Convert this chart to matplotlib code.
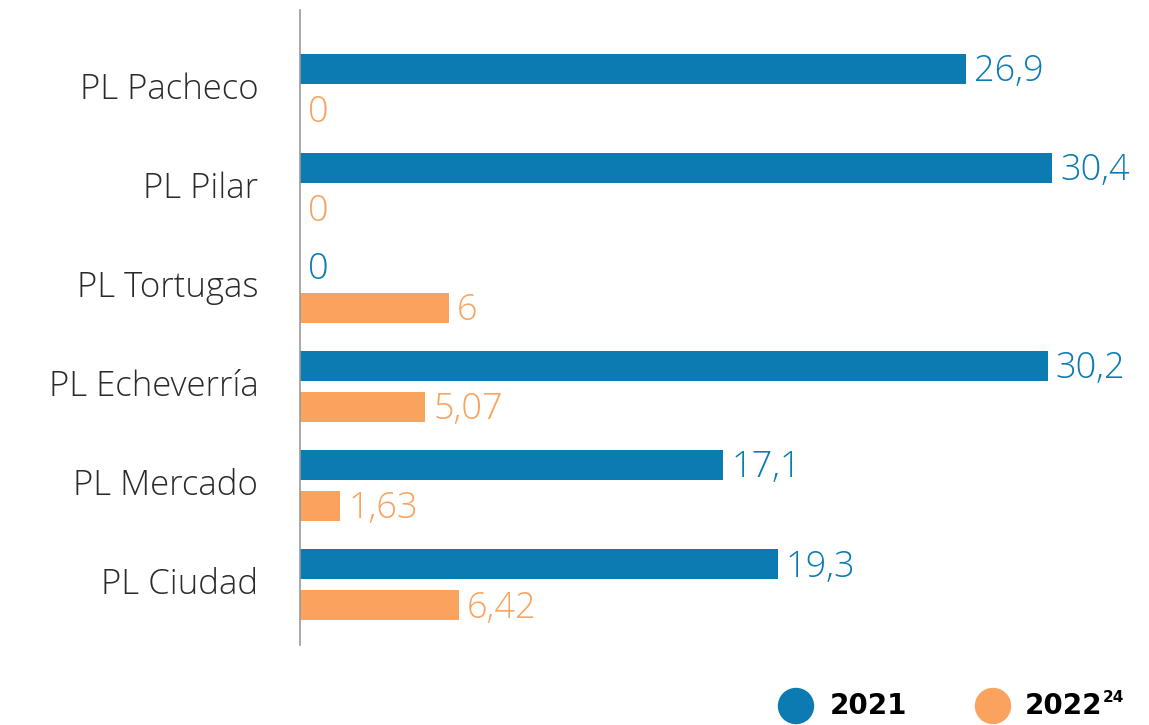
import matplotlib
matplotlib.use("Agg")
import matplotlib.pyplot as plt
from matplotlib.patches import Circle
import numpy as np

# ---------------------------------------------------------------------------
# Data
# ---------------------------------------------------------------------------

CATEGORIES = ["PL Pacheco", "PL Pilar", "PL Tortugas", "PL Echeverría",
              "PL Mercado", "PL Ciudad"]
VALUES_2021 = [26.9, 30.4, 0, 30.2, 17.1, 19.3]
VALUES_2022 = [0, 0, 6, 5.07, 1.63, 6.42]
LABELS_2021 = ["26,9", "30,4", "0", "30,2", "17,1", "19,3"]
LABELS_2022 = ["0", "0", "6", "5,07", "1,63", "6,42"]

BLUE   = "#0b7bb2"
ORANGE = "#f9a35e"
FONT   = "Open Sans"

# ---------------------------------------------------------------------------
# Plot
# ---------------------------------------------------------------------------

W, H = 1149, 725
fig = plt.figure(figsize=(W / 100, H / 100), dpi=100)
ax = fig.add_axes([300 / W, 1 - 645 / H, 1 - 300 / W, (645 - 10) / H])

y = np.arange(len(CATEGORIES))
off = 0.207
bh = 0.303

ax.barh(y - off, VALUES_2021, height=bh, color=BLUE)
ax.barh(y + off, VALUES_2022, height=bh, color=ORANGE)

for yi, v, lab in zip(y, VALUES_2021, LABELS_2021):
    ax.text(v + 0.32, yi - off + 0.03, lab, va="center", ha="left", color=BLUE,
            fontsize=26, family=FONT, fontweight=300)
for yi, v, lab in zip(y, VALUES_2022, LABELS_2022):
    ax.text(v + 0.32, yi + off + 0.03, lab, va="center", ha="left", color=ORANGE,
            fontsize=26, family=FONT, fontweight=300)

ax.set_xlim(0, 34.3)
ax.set_ylim(5.61, -0.80)
ax.set_yticks(y - 0.04)
ax.set_yticklabels(CATEGORIES, fontsize=25, family=FONT, fontweight=300,
                   color="#2a2a2a")
ax.tick_params(axis="y", length=0, pad=30)
ax.set_xticks([])
for s in ["top", "right", "bottom"]:
    ax.spines[s].set_visible(False)
ax.spines["left"].set_color("#999999")
ax.spines["left"].set_linewidth(1.2)

# legend
fig.add_artist(Circle((796 / 100, 19 / 100), 0.175, color=BLUE,
                      transform=fig.dpi_scale_trans))
fig.add_artist(Circle((993 / 100, 19 / 100), 0.175, color=ORANGE,
                      transform=fig.dpi_scale_trans))
fig.text(830 / W, 19 / H, "2021", ha="left", va="center", fontsize=20,
         fontweight="bold", family="DejaVu Sans", color="black")
fig.text(1025 / W, 19 / H, "2022", ha="left", va="center", fontsize=20,
         fontweight="bold", family="DejaVu Sans", color="black")
fig.text(1103 / W, 28 / H, "24", ha="left", va="center", fontsize=11,
         fontweight="bold", family="DejaVu Sans", color="black")

fig.savefig("out.png", dpi=100)
